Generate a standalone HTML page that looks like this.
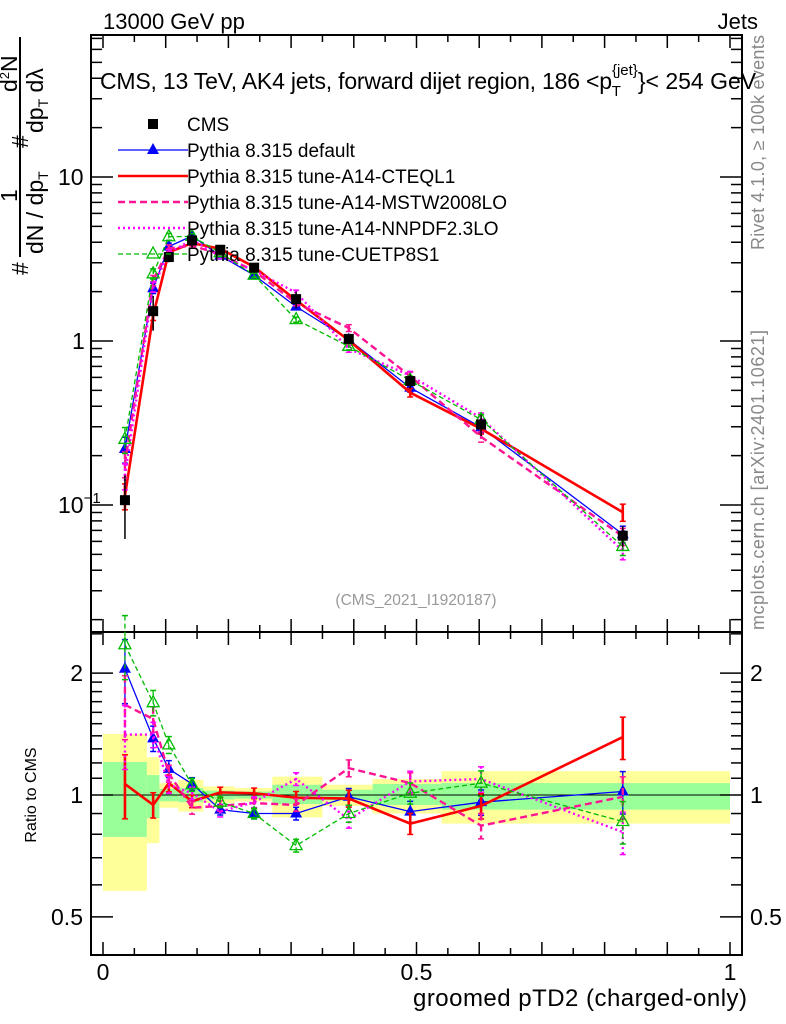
<!DOCTYPE html>
<html><head><meta charset="utf-8"><style>
body{margin:0;background:#fff;}
svg{display:block;font-family:"Liberation Sans",sans-serif;}
</style></head><body>
<svg id="c" width="786" height="1024" viewBox="0 0 786 1024" xmlns="http://www.w3.org/2000/svg">
<g id="bands"></g>
<g id="axes"></g>
<g id="series"></g>
<text x="103" y="29" font-size="22">13000 GeV pp</text>
<text x="758" y="29" font-size="22" text-anchor="end">Jets</text>
<text x="100" y="89" font-size="23"><tspan textLength="512">CMS, 13 TeV, AK4 jets, forward dijet region, 186 &lt;p</tspan><tspan font-size="15" dy="7">T</tspan><tspan font-size="15" dy="-21" dx="-9">{jet}</tspan><tspan dy="14">}&lt; 254 GeV</tspan></text>
<text x="416" y="605" font-size="15.5" fill="#999" text-anchor="middle">(CMS_2021_I1920187)</text>
<text transform="translate(764,250) rotate(-90)" font-size="18" fill="#888" textLength="215">Rivet 4.1.0, ≥ 100k events</text>
<text transform="translate(764,630) rotate(-90)" font-size="18" fill="#888" textLength="300">mcplots.cern.ch [arXiv:2401.10621]</text>
<text x="747" y="1006" font-size="24" text-anchor="end" textLength="334">groomed pTD2 (charged-only)</text>
<text transform="translate(36,795) rotate(-90)" font-size="16" text-anchor="middle">Ratio to CMS</text>
<g font-size="23">
<line x1="20" y1="37" x2="20" y2="257" stroke="#000" stroke-width="2"/>
<text transform="translate(28,275) rotate(-90)">#</text>
<text transform="translate(43,254) rotate(-90)">dN / dp<tspan font-size="14" dy="5">T</tspan></text>
<text transform="translate(17,202) rotate(-90)">1</text>
<text transform="translate(28,148) rotate(-90)">#</text>
<text transform="translate(43,133) rotate(-90)">dp<tspan font-size="14" dy="5">T</tspan><tspan dy="-5"> dλ</tspan></text>
<text transform="translate(17,92) rotate(-90)">d<tspan font-size="13" dy="-8">2</tspan><tspan dy="8">N</tspan></text>
</g>
<g id="legend"></g>
</svg>
<script>
const xVals=[0.035,0.08,0.105,0.142,0.187,0.241,0.308,0.392,0.49,0.603,0.829];
const binEdges=[0,0.07,0.09,0.12,0.16,0.21,0.27,0.35,0.43,0.54,0.66,1.0];
const cmsVals=[0.107,1.52,3.25,4.1,3.6,2.8,1.8,1.03,0.57,0.31,0.065];
const yellowUp=[1.415,1.24,1.07,1.09,1.05,1.04,1.11,1.06,1.095,1.145,1.145];
const yellowDn=[0.58,0.76,0.93,0.91,0.955,0.965,0.88,0.94,0.9,0.85,0.85];
const greenUp=[1.206,1.12,1.035,1.04,1.025,1.02,1.06,1.03,1.065,1.07,1.07];
const greenDn=[0.788,0.877,0.965,0.96,0.975,0.98,0.95,0.97,0.945,0.92,0.92];
const ratioDefault=[2.05,1.38,1.16,1.065,0.92,0.9,0.9,0.99,0.91,0.96,1.02];
const ratioCTEQ=[1.065,0.945,1.07,0.965,1.015,1.01,0.985,0.98,0.85,0.94,1.39];
const ratioMSTW=[1.67,1.54,1.13,0.93,0.94,0.955,0.945,1.165,1.07,0.84,0.99];
const ratioNNPDF=[1.41,1.41,1.06,1.01,0.91,0.96,1.095,0.87,1.08,1.095,0.81];
const ratioCUETP=[2.35,1.69,1.33,1.06,0.96,0.9,0.75,0.9,1.01,1.07,0.86];
const relErr=[0.3,0.12,0.08,0.06,0.05,0.05,0.06,0.08,0.1,0.12,0.2];
const xTicks=[0,0.5,1];
const xTickLabels=["0","0.5","1"];
const ratioTicks=[0.5,1,2];
const ratioTickLabels=["0.5","1","2"];

const NS="http://www.w3.org/2000/svg";
const X=v=>103+627*v;
const Ym=v=>341-164*Math.log10(v);
const Yr=v=>795-405*Math.log10(v);
const L=91,R=742,T=35,MB=632,RB=955;
function el(tag,attrs,parent){const e=document.createElementNS(NS,tag);for(const k in attrs)e.setAttribute(k,attrs[k]);parent.appendChild(e);return e;}
const axes=document.getElementById('axes'),bands=document.getElementById('bands'),series=document.getElementById('series'),legend=document.getElementById('legend');

for(let i=0;i<binEdges.length-1;i++){
  let r=el('rect',{x:X(binEdges[i]),y:Yr(yellowUp[i]),width:X(binEdges[i+1])-X(binEdges[i]),height:Yr(yellowDn[i])-Yr(yellowUp[i]),fill:'#ffff99'},bands);
  
  
  let g=el('rect',{x:X(binEdges[i]),y:Yr(greenUp[i]),width:X(binEdges[i+1])-X(binEdges[i]),height:Yr(greenDn[i])-Yr(greenUp[i]),fill:'#99ff99'},bands);
  
  
}
el('line',{x1:L,x2:R,y1:Yr(1),y2:Yr(1),stroke:'#000','stroke-width':1},bands);

const f1=el('rect',{x:L,y:T,width:R-L,height:MB-T,fill:'none',stroke:'#000','stroke-width':2},axes);


const f2=el('rect',{x:L,y:MB,width:R-L,height:RB-MB,fill:'none',stroke:'#000','stroke-width':2},axes);


for(let k=0;k<=20;k++){const v=k*0.05,len=(k%2==0)?13:7,x=X(v);
  [[MB,-1],[T,1],[RB,-1],[MB,1]].forEach(([y,d])=>el('line',{x1:x,x2:x,y1:y,y2:y+d*len,stroke:'#000','stroke-width':1.5},axes));}
xTicks.forEach((v,i)=>{const t=el('text',{x:X(v),y:980,'font-size':23,'text-anchor':'middle'},axes);t.textContent=xTickLabels[i];
  
  });
for(let d=-2;d<=1;d++)for(let m=1;m<=9;m++){const v=m*Math.pow(10,d),y=Ym(v);if(y<T||y>MB)continue;const len=m==1?22:11;
  el('line',{x1:L,x2:L+len,y1:y,y2:y,stroke:'#000','stroke-width':1.5},axes);
  el('line',{x1:R,x2:R-len,y1:y,y2:y,stroke:'#000','stroke-width':1.5},axes);}
[[0.1,'10',58],[1,'1',72],[10,'10',58]].forEach(([v,s,x],i)=>{const t=el('text',{x:x,y:Ym(v)+8,'font-size':23},axes);t.textContent=s;
  if(i==0){const sp=el('tspan',{'font-size':15,dy:-10},t);sp.textContent='−1';}
  
  });
[0.4,0.5,0.6,0.7,0.8,0.9,1,1.1,1.2,1.3,1.4,1.5,1.6,1.7,1.8,1.9,2,2.5].forEach(v=>{const y=Yr(v);if(y<MB||y>RB)return;const len=(v==0.5||v==1||v==2)?22:11;
  el('line',{x1:L,x2:L+len,y1:y,y2:y,stroke:'#000','stroke-width':1.5},axes);
  el('line',{x1:R,x2:R-len,y1:y,y2:y,stroke:'#000','stroke-width':1.5},axes);});
ratioTicks.forEach((v,i)=>{[[83,'end'],[750,'start']].forEach(([x,a])=>{const t=el('text',{x:x,y:Yr(v)+8,'font-size':23,'text-anchor':a},axes);t.textContent=ratioTickLabels[i];
  
  });});

function marker(g,type,x,y,color){
  if(type=='sq')el('rect',{x:x-5,y:y-5,width:10,height:10,fill:'#000'},g);
  else if(type=='tri')el('polygon',{points:`${x},${y-7} ${x-6},${y+4} ${x+6},${y+4}`,fill:color},g);
  else if(type=='otri')el('polygon',{points:`${x},${y-7} ${x-6},${y+4} ${x+6},${y+4}`,fill:'none',stroke:color,'stroke-width':1.3},g);
}
const models=[
 {name:'Pythia 8.315 default',r:ratioDefault,color:'#0000ff',w:1.3,dash:'',m:'tri'},
 {name:'Pythia 8.315 tune-A14-CTEQL1',r:ratioCTEQ,color:'#ff0000',w:2.6,dash:'',m:''},
 {name:'Pythia 8.315 tune-A14-MSTW2008LO',r:ratioMSTW,color:'#ff1493',w:2.4,dash:'7,4',m:''},
 {name:'Pythia 8.315 tune-A14-NNPDF2.3LO',r:ratioNNPDF,color:'#ff00ff',w:2.4,dash:'2,3',m:''},
 {name:'Pythia 8.315 tune-CUETP8S1',r:ratioCUETP,color:'#00bb00',w:1.3,dash:'5,3',m:'otri'}];
models.forEach(md=>{
  ['main','ratio'].forEach(pane=>{
    const g=el('g',{},series);
    
    
    const Yf=pane=='main'?Ym:Yr;
    const vals=xVals.map((x,i)=>pane=='main'?cmsVals[i]*md.r[i]:md.r[i]);
    el('polyline',{points:vals.map((v,i)=>X(xVals[i])+','+Yf(v)).join(' '),fill:'none',stroke:md.color,'stroke-width':md.w,'stroke-dasharray':md.dash},g);
    vals.forEach((v,i)=>{const x=X(xVals[i]),e=relErr[i]*0.6;
      el('line',{x1:x,x2:x,y1:Yf(v*(1+e)),y2:Yf(v*(1-e)),stroke:md.color,'stroke-width':md.w,'stroke-dasharray':md.dash},g);
      el('line',{x1:x-3,x2:x+3,y1:Yf(v*(1+e)),y2:Yf(v*(1+e)),stroke:md.color,'stroke-width':1.5},g);
      el('line',{x1:x-3,x2:x+3,y1:Yf(v*(1-e)),y2:Yf(v*(1-e)),stroke:md.color,'stroke-width':1.5},g);
      if(md.m)marker(g,md.m,x,Yf(v),md.color);});
  });
});
const cg=el('g',{},series);


cmsVals.forEach((v,i)=>{const x=X(xVals[i]);
  el('line',{x1:x,x2:x,y1:Ym(v*yellowUp[i]),y2:Ym(v*yellowDn[i]),stroke:'#000','stroke-width':1.5},cg);
  marker(cg,'sq',x,Ym(v));});
const entries=[{name:'CMS',color:'#000',w:0,dash:'',m:'sq'}].concat(models);
entries.forEach((e,i)=>{const y=124+26*i,g=el('g',{},legend);
  
  
  if(e.w)el('line',{x1:118,x2:188,y1:y,y2:y,stroke:e.color,'stroke-width':e.w,'stroke-dasharray':e.dash},g);
  if(e.m)marker(g,e.m,153,y,e.color);
  const t=el('text',{x:187,y:y+7,'font-size':19},g);t.textContent=e.name;});
</script>
</body></html>
